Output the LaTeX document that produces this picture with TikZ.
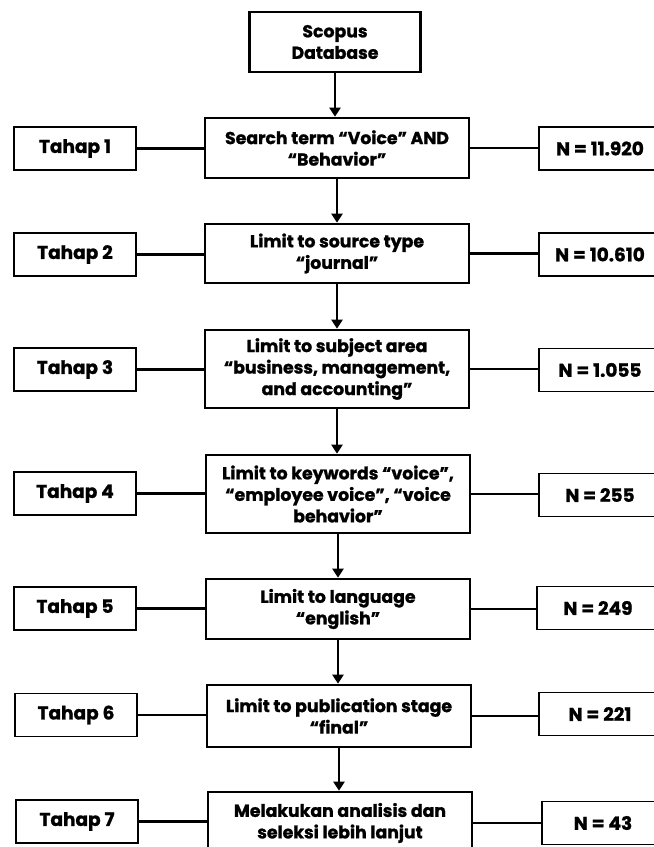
\documentclass[tikz,border=0pt]{standalone}
\usepackage{fontspec}
\setmainfont{Poppins}[BoldFeatures={FakeBold=1.2}]
\usetikzlibrary{arrows.meta}
\begin{document}
\begin{tikzpicture}[x=1pt,y=-1pt,
  txt/.style={font=\bfseries\fontsize{17.3}{21.5}\selectfont, align=center, inner sep=0pt},
  mainbox/.style={txt, draw, line width=2.6pt, minimum width=264pt},
  sidebox/.style={txt, font=\bfseries\fontsize{18.5}{21}\selectfont, draw, line width=1.8pt, minimum width=122pt, minimum height=43pt},
  link/.style={line width=2.2pt},
  flow/.style={line width=2.6pt, -{Triangle[width=11pt,length=9pt]}}]
\useasboundingbox (0,0) rectangle (654,847);
\node[mainbox, minimum width=171pt, minimum height=60pt] (s) at (335,42) {Scopus\\Database};
\node[mainbox, minimum height=60pt] (c1) at (337,148) {Search term “Voice” AND\\“Behavior”};
\node[mainbox, minimum height=59pt] (c2) at (337,253.5) {Limit to source type\\“journal”};
\node[mainbox, minimum height=78pt] (c3) at (337,369) {Limit to subject area\\“business, management,\\and accounting”};
\node[mainbox, minimum height=78pt] (c4) at (338,494) {Limit to keywords “voice”,\\“employee voice”, “voice\\behavior”};
\node[mainbox, minimum height=60pt] (c5) at (338,609) {Limit to language\\“english”};
\node[mainbox, minimum height=62pt] (c6) at (339,716) {Limit to publication stage\\“final”};
\node[mainbox, minimum height=62pt] (c7) at (340,823) {Melakukan analisis dan\\seleksi lebih lanjut};
\node[sidebox] (t1) at (75,148.5) {Tahap 1};
\node[sidebox] (t2) at (75,254.5) {Tahap 2};
\node[sidebox] (t3) at (75,369.5) {Tahap 3};
\node[sidebox] (t4) at (75,493.5) {Tahap 4};
\node[sidebox] (t5) at (75,608.5) {Tahap 5};
\node[sidebox] (t6) at (76,715) {Tahap 6};
\node[sidebox] (t7) at (77,821.5) {Tahap 7};
\node[sidebox] (n1) at (600,148.5) {N = 11.920};
\node[sidebox] (n2) at (600,254.5) {N = 10.610};
\node[sidebox] (n3) at (600,370) {N = 1.055};
\node[sidebox] (n4) at (600,495) {N = 255};
\node[sidebox] (n5) at (598,608) {N = 249};
\node[sidebox] (n6) at (600,714) {N = 221};
\node[sidebox] (n7) at (603,823) {N = 43};
\draw[flow] (s.south) -- (s.south |- c1.north);
\draw[flow] (c1.south) -- (c1.south |- c2.north);
\draw[flow] (c2.south) -- (c2.south |- c3.north);
\draw[flow] (c3.south) -- (c3.south |- c4.north);
\draw[flow] (c4.south) -- (c4.south |- c5.north);
\draw[flow] (c5.south) -- (c5.south |- c6.north);
\draw[flow] (c6.south) -- (c6.south |- c7.north);
\foreach \i in {1,...,7}{
  \draw[link] (t\i.east) -- (t\i.east -| c\i.west);
  \draw[link] (c\i.east) -- (c\i.east -| n\i.west);
}
\end{tikzpicture}
\end{document}
